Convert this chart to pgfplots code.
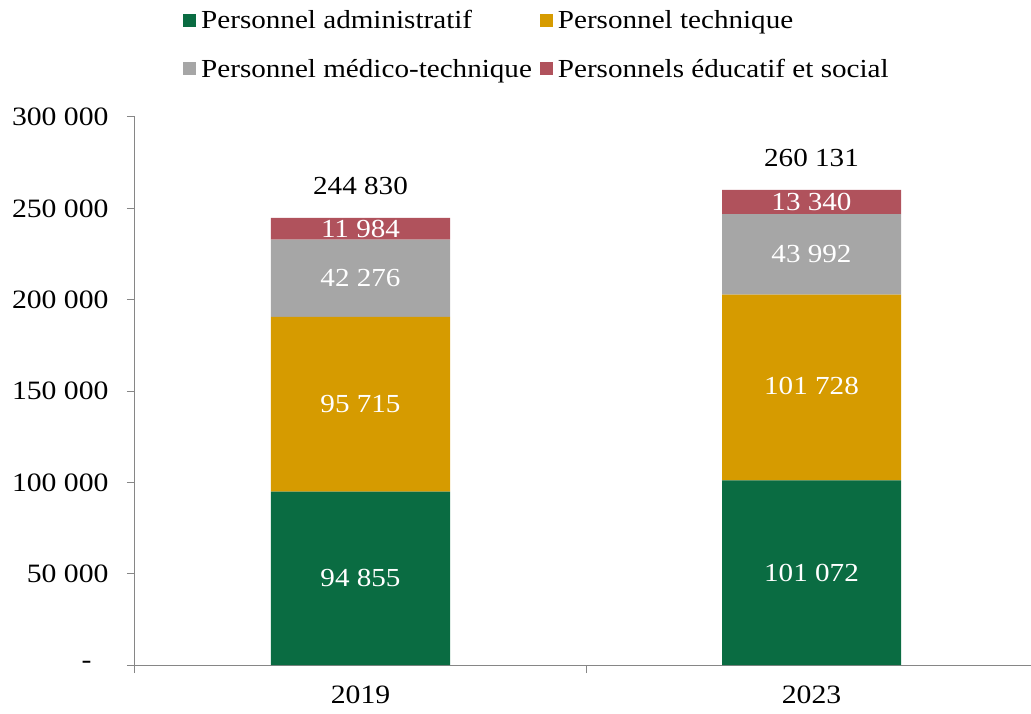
\documentclass[border=0pt]{standalone}
\usepackage{pgfplots}
\pgfplotsset{compat=1.18}
\usepackage{fontspec}
\setmainfont[FakeStretch=1.12]{Liberation Serif}
\definecolor{admcol}{RGB}{10,108,66}
\definecolor{teccol}{RGB}{214,155,0}
\definecolor{medcol}{RGB}{166,166,166}
\definecolor{edcol}{RGB}{176,82,92}
\definecolor{axcol}{RGB}{134,134,134}
\tikzset{lbl/.style={font=\fontsize{26}{30}\selectfont, text=white}}

\begin{document}
\begin{tikzpicture}
\begin{axis}[
  at={(0,0)}, anchor=south west,
  scale only axis,
  width=902pt, height=548pt,
  ybar stacked, bar width=179pt,
  xmin=-0.5, xmax=1.5,
  ymin=0, ymax=300000,
  scaled y ticks=false,
  xtick={-0.5,0.5,1.5},
  x tick label as interval,
  xticklabels={2019,2023},
  ytick={0,50000,100000,150000,200000,250000,300000},
  yticklabels={{-\kern17pt},50 000,100 000,150 000,200 000,250 000,300 000},
  axis x line*=bottom, axis y line*=left,
  axis line style={axcol, line width=1pt, -},
  tick style={axcol, line width=1pt},
  tick align=outside, major tick length=8pt,
  ticklabel style={font=\fontsize{26.5}{30}\selectfont},
  yticklabel style={xshift=-15pt},
  xticklabel style={yshift=-9pt},
  legend columns=2,
  legend cell align=left,
  legend style={draw=none, fill=none, at={(axis description cs:0.0499,1)},
    anchor=north west, yshift=111pt,
    font=\fontsize{26}{30}\selectfont, row sep=25pt,
    /tikz/every odd column/.append style={column sep=3pt},
    /tikz/every even column/.append style={column sep=6pt}},
  legend image code/.code={\fill[#1] (0pt,-6.5pt) rectangle (13pt,6.5pt);},
  clip=false,
]
  \addplot[fill=admcol, draw=none] coordinates {(0,94855) (1,101072)};
  \addplot[fill=teccol, draw=none] coordinates {(0,95715) (1,101728)};
  \addplot[fill=medcol, draw=none] coordinates {(0,42276) (1,43992)};
  \addplot[fill=edcol, draw=none] coordinates {(0,11984) (1,13340)};
  \legend{Personnel administratif, Personnel technique,
          Personnel médico-technique, Personnels éducatif et social}
  \coordinate (a0) at (axis cs:0,47427.5);
  \coordinate (a1) at (axis cs:1,50536);
  \coordinate (t0) at (axis cs:0,142712.5);
  \coordinate (t1) at (axis cs:1,152936);
  \coordinate (m0) at (axis cs:0,211708);
  \coordinate (m1) at (axis cs:1,224796);
  \coordinate (e0) at (axis cs:0,238838);
  \coordinate (e1) at (axis cs:1,253461);
  \coordinate (s0) at (axis cs:0,244830);
  \coordinate (s1) at (axis cs:1,260131);
\end{axis}
\node[lbl] at (a0) {94 855};
\node[lbl] at (a1) {101 072};
\node[lbl] at (t0) {95 715};
\node[lbl] at (t1) {101 728};
\node[lbl] at (m0) {42 276};
\node[lbl] at (m1) {43 992};
\node[lbl] at (e0) {11 984};
\node[lbl] at (e1) {13 340};
\node[font=\fontsize{26}{30}\selectfont, anchor=south, yshift=19pt] at (s0) {244 830};
\node[font=\fontsize{26}{30}\selectfont, anchor=south, yshift=20pt] at (s1) {260 131};
\pgfresetboundingbox
\path (-135pt,-48pt) rectangle (896pt,665pt);
\end{tikzpicture}
\end{document}
